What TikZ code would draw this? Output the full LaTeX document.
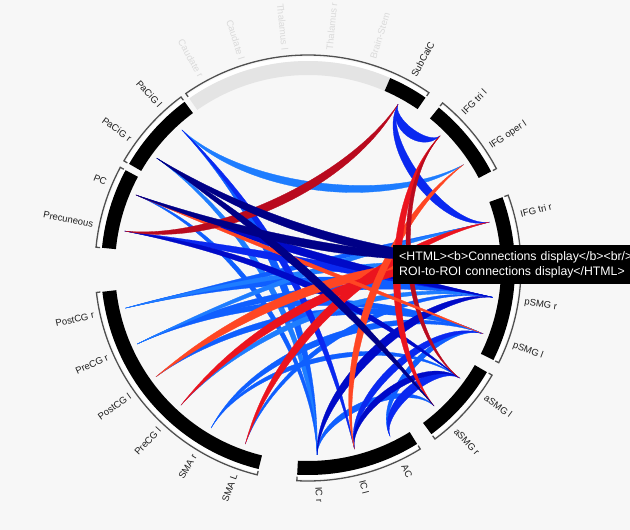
\documentclass[tikz,border=0pt]{standalone}
\usepackage{fontspec}
\setmainfont{Liberation Sans}
\usepackage{xcolor}
\usetikzlibrary{calc}

\definecolor{bggray}{RGB}{247,247,247}
\definecolor{ringgray}{RGB}{228,228,228}
\definecolor{bracketgray}{RGB}{80,80,80}
\definecolor{labeldark}{RGB}{30,30,30}
\definecolor{labelfaint}{RGB}{218,218,218}
\definecolor{cnavy}{RGB}{0,0,135}
\definecolor{cdblue}{RGB}{0,10,200}
\definecolor{cblue}{RGB}{10,40,240}
\definecolor{clblue}{RGB}{15,95,255}
\definecolor{csky}{RGB}{30,125,255}
\definecolor{cdred}{RGB}{185,10,30}
\definecolor{cred}{RGB}{235,20,30}
\definecolor{cored}{RGB}{255,70,35}

% radius where the ribbons end
\newcommand{\rend}{187}

% one black (or grey) piece of the ring
\newcommand{\ringseg}[3]{%
  \fill[white] (#1:207pt) arc[start angle=#1, end angle=#2, radius=207pt]
    -- (#2:211pt) arc[start angle=#2, end angle=#1, radius=211pt] -- cycle;
  \fill[#3] (#1:193pt) arc[start angle=#1, end angle=#2, radius=193pt]
    -- (#2:207pt) arc[start angle=#2, end angle=#1, radius=207pt] -- cycle;
}
% bracket round a group of ROIs
\newcommand{\roigroup}[2]{%
  \draw[bracket] (#1:209pt) -- (#1:213pt) arc[start angle=#1, end angle=#2, radius=213pt] -- (#2:209pt);
}
% tapered ribbon between two ROIs
\newcommand{\link}[4]{%
  \pgfmathsetmacro{\angA}{\csname ang#1\endcsname}%
  \pgfmathsetmacro{\angB}{\csname ang#2\endcsname}%
  \pgfmathsetmacro{\dang}{abs(\angA-\angB)}%
  \pgfmathsetmacro{\dang}{\dang>180 ? 360-\dang : \dang}%
  \pgfmathsetmacro{\kr}{(0.92-0.004*\dang)*\rend}%
  \pgfmathsetmacro{\angM}{(\angA+\angB)/2}%
  \fill[ribbon, #4] (#1) .. controls (\angA:\kr pt) and (\angB:\kr pt) .. (#2)
    .. controls ($(\angB:\kr pt)+(\angM:#3pt)$) and ($(\angA:\kr pt)+(\angM:#3pt)$) .. (#1) -- cycle;
}

\begin{document}
\begin{tikzpicture}[x=1pt, y=1pt,
    bracket/.style={bracketgray, line width=1.3pt},
    ribbon/.style={draw=white, line width=0.3pt},
    roilabel/.style={font=\fontsize{9.5}{10}\selectfont, inner sep=0pt},
    tipbox/.style={fill=black, text=white, font=\fontsize{12.3}{15}\selectfont,
      align=left, text width=250pt, inner xsep=6pt, inner ysep=4pt, minimum height=39pt}]
	% Canvas
	\useasboundingbox (-308,-262) rectangle (322,268);
	\clip (-308,-262) rectangle (322,268);
	\fill[bggray] (-308,-262) rectangle (322,268);
	
	% Ring
	\ringseg{125}{66.6}{ringgray}
	\ringseg{66.6}{55.4}{black}
	\ringseg{50.8}{27.8}{black}
	\ringseg{20.0}{-26.4}{black}
	\ringseg{-30.2}{-53.4}{black}
	\ringseg{-58.2}{-93.0}{black}
	\ringseg{256.2}{186.6}{black}
	\ringseg{174.4}{151.8}{black}
	\ringseg{149.8}{126.6}{black}
	
	% Brackets
	\roigroup{125}{55.4}
	\roigroup{50.8}{27.8}
	\roigroup{20.0}{-26.4}
	\roigroup{-30.2}{-53.4}
	\roigroup{-58.2}{-93.0}
	\roigroup{256.2}{186.6}
	\roigroup{174.4}{151.8}
	\roigroup{149.8}{126.6}
	
	% ROIs and their labels
	\foreach \key/\ang/\txt/\col in {CauR/119.2/Caudate r/labelfaint, CauL/107.6/Caudate l/labelfaint,
	    ThaL/96.0/Thalamus l/labelfaint, ThaR/84.4/Thalamus r/labelfaint, BS/72.8/Brain-Stem/labelfaint,
	    SubCalC/61.2/SubCalC/labeldark, IFGtriL/45.0/IFG tri l/labeldark, IFGoperL/33.6/IFG oper l/labeldark,
	    IFGtriR/14.2/IFG tri r/labeldark, IFGoperR/2.6//labeldark, pSMGr/-9.0/pSMG r/labeldark,
	    pSMGl/-20.6/pSMG l/labeldark, aSMGl/-36.0/aSMG l/labeldark, aSMGr/-47.6/aSMG r/labeldark,
	    AC/-64.0/AC/labeldark, ICl/-75.6/IC l/labeldark, ICr/-87.2/IC r/labeldark,
	    SMAL/250.4/SMA L/labeldark, SMAr/238.8/SMA r/labeldark, PreCGl/227.2/PreCG l/labeldark,
	    PostCGl/215.6/PostCG l/labeldark, PreCGr/204.0/PreCG r/labeldark, PostCGr/192.4/PostCG r/labeldark,
	    Precun/168.6/Precuneous/labeldark, PC/157.0/PC/labeldark, PaCiGr/144.0/PaCiG r/labeldark,
	    PaCiGl/132.4/PaCiG l/labeldark}{
		\coordinate (\key) at (\ang:\rend pt);
		\expandafter\xdef\csname ang\key\endcsname{\ang}
		\ifx\txt\empty\else
		\pgfmathparse{\ang>90 ? 1 : 0}
		\ifnum\pgfmathresult=1
			\node[roilabel, text=\col, anchor=east, rotate=\ang-180] (l-\key) at (\ang:219pt) {\txt};
		\else
			\node[roilabel, text=\col, anchor=west, rotate=\ang] (l-\key) at (\ang:219pt) {\txt};
		\fi
		\fi
	}
	
	% Connections, light blue
	\link{PaCiGl}{IFGoperL}{10}{csky}
	\link{PaCiGl}{ICr}{9}{clblue}
	\link{ICr}{PaCiGr}{7}{csky}
	\link{ICr}{PC}{6}{clblue}
	\link{PostCGr}{pSMGr}{9}{clblue}
	\link{PostCGr}{IFGtriR}{6}{clblue}
	\link{PostCGr}{IFGoperR}{6}{csky}
	\link{PreCGr}{pSMGr}{8}{clblue}
	\link{PreCGr}{pSMGl}{8}{clblue}
	\link{PreCGr}{IFGtriR}{6}{csky}
	\link{PostCGl}{pSMGl}{9}{clblue}
	\link{PreCGl}{pSMGr}{7}{csky}
	\link{SMAr}{pSMGl}{8}{clblue}
	\link{SMAr}{aSMGl}{6}{clblue}
	\link{SMAL}{pSMGr}{6}{clblue}
	\link{ICr}{aSMGr}{8}{clblue}
	\link{AC}{pSMGl}{7}{clblue}
	% blue
	\link{PaCiGl}{ICl}{8}{cblue}
	\link{SubCalC}{IFGtriL}{12}{cblue}
	\link{SubCalC}{IFGtriR}{11}{cblue}
	\link{Precun}{pSMGr}{10}{cblue}
	\link{ICl}{pSMGl}{9}{cblue}
	\link{AC}{aSMGl}{11}{cblue}
	\link{ICl}{aSMGl}{8}{cdblue}
	\link{ICr}{pSMGr}{11}{cdblue}
	\link{PC}{pSMGr}{10}{cdblue}
	\link{Precun}{aSMGl}{8}{cdblue}
	% red
	\link{PostCGl}{IFGoperR}{12}{cored}
	\link{PreCGl}{IFGoperR}{11}{cred}
	\link{SMAL}{IFGtriR}{11}{cred}
	\link{IFGoperL}{ICl}{9}{cored}
	\link{IFGtriL}{aSMGr}{9}{cred}
	\link{IFGtriL}{aSMGl}{6}{cdred}
	\link{PC}{pSMGl}{5}{cored}
	\link{Precun}{SubCalC}{11}{cdred}
	% navy
	\link{PaCiGr}{IFGoperR}{11}{cnavy}
	\link{PC}{IFGoperR}{11}{cnavy}
	\link{PaCiGr}{aSMGr}{10}{cnavy}
	
	% Tooltip
	\node[tipbox, anchor=north west] (tip) at (85,23) {<HTML><b>Connections display</b><br/>\\ROI-to-ROI connections display</HTML>};
\end{tikzpicture}
\end{document}
